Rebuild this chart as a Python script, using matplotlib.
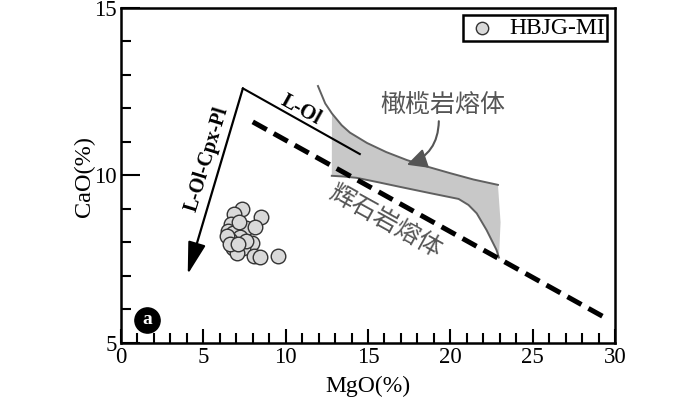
import numpy as np
import matplotlib
matplotlib.use('Agg')
import matplotlib.pyplot as plt
from matplotlib.ticker import MultipleLocator

plt.rcParams['font.family'] = ['Liberation Serif', 'DejaVu Serif']

# HBJG-MI melt inclusions
mgo = [7.33, 6.88, 8.52, 6.70, 7.57, 8.11, 6.51, 6.82, 7.23, 6.62, 7.94,
       6.82, 7.43, 7.03, 8.07, 8.47, 9.56, 6.45, 7.15, 7.60, 6.60, 7.10]
cao = [9.01, 8.84, 8.75, 8.54, 8.44, 8.46, 8.35, 8.27, 8.17, 8.07, 7.99,
       7.85, 7.83, 7.68, 7.60, 7.57, 7.61, 8.20, 8.60, 8.05, 7.95, 7.95]

# pyroxenite melt trend (dashed)
px_x = [8.0, 29.6]
px_y = [11.6, 5.7]

# L-Ol trend and L-Ol-Cpx-Pl arrow
lol_x = [7.4, 14.5]
lol_y = [12.6, 10.64]
cpx_from = (7.4, 12.6)
cpx_to = (4.05, 7.05)

# peridotite melt field
upper_x = [11.96, 12.4, 12.81, 13.4, 13.9, 14.94, 16.1, 17.36, 18.7, 19.98, 21.4, 22.89]
upper_y = [12.67, 12.15, 11.85, 11.5, 11.28, 10.97, 10.70, 10.46, 10.25, 10.07, 9.88, 9.72]
lower_x = [12.8, 13.5, 14.3, 15.6, 16.94, 18.8, 20.5, 21.1, 21.6, 22.2, 22.8, 22.95]
lower_y = [9.99, 9.97, 9.93, 9.80, 9.66, 9.47, 9.30, 9.12, 8.87, 8.37, 7.78, 7.55]
edge_x = [23.05]
edge_y = [8.6]

fig = plt.figure(figsize=(7, 3.99), dpi=100)
ax = fig.add_axes([0.1729, 0.1404, 0.7057, 0.8396])

poly_x = upper_x[2:] + edge_x + lower_x[::-1]
poly_y = upper_y[2:] + edge_y + lower_y[::-1]
ax.fill(poly_x, poly_y, color='#c8c8c8', lw=0, zorder=1)
ax.plot(upper_x, upper_y, color='#606060', lw=1.4, zorder=2)
ax.plot(lower_x, lower_y, color='#606060', lw=1.4, zorder=2)

ax.plot(px_x, px_y, color='black', lw=3.6, dashes=(3.2, 1.6), zorder=3)
ax.plot(lol_x, lol_y, color='black', lw=1.5, zorder=3)
ax.annotate('', xy=cpx_to, xytext=cpx_from,
            arrowprops=dict(arrowstyle='-|>,head_length=0.9,head_width=0.25',
                            mutation_scale=22, color='black', lw=1.6,
                            shrinkA=0, shrinkB=0), zorder=3)

ax.scatter(mgo, cao, s=110, facecolor='#d9d9d9', edgecolor='#333333',
           linewidths=1.0, zorder=4, label='HBJG-MI')

# labels
ax.text(10.9, 11.95, 'L-Ol', fontsize=15, fontweight='bold', rotation=-29,
        ha='center', va='center')
ax.text(5.25, 10.5, 'L-Ol-Cpx-Pl', fontsize=14.5, fontweight='bold', rotation=73,
        ha='center', va='center')
cjk = ['Noto Sans CJK SC', 'DejaVu Sans']
ax.text(19.55, 12.1, '橄榄岩熔体', fontsize=18, color='#555555', family=cjk,
        ha='center', va='center')
ax.text(16.05, 8.62, '辉石岩熔体', fontsize=18, color='#555555', family=cjk,
        rotation=-29, ha='center', va='center')
ax.annotate('', xy=(17.36, 10.32), xytext=(19.3, 11.62),
            arrowprops=dict(arrowstyle='-|>,head_length=0.6,head_width=0.3',
                            mutation_scale=20, color='#555555', lw=1.5,
                            connectionstyle='arc3,rad=-0.35',
                            shrinkA=0, shrinkB=0), zorder=5)

ax.scatter([1.58], [5.69], s=330, color='black', zorder=5, clip_on=False)
ax.text(1.58, 5.69, 'a', color='white', fontsize=14, fontweight='bold',
        ha='center', va='center', zorder=6)

ax.set_xlim(0, 30)
ax.set_ylim(5, 15)
ax.xaxis.set_major_locator(MultipleLocator(5))
ax.xaxis.set_minor_locator(MultipleLocator(1))
ax.yaxis.set_major_locator(MultipleLocator(5))
ax.yaxis.set_minor_locator(MultipleLocator(1))
ax.tick_params(axis='both', which='both', direction='in', top=False, right=False,
               width=1.5, labelsize=16.5, pad=3)
ax.tick_params(axis='x', which='major', length=10)
ax.tick_params(axis='y', which='major', length=14)
ax.tick_params(axis='both', which='minor', length=7.5)
for s in ax.spines.values():
    s.set_linewidth(1.8)

ax.set_xlabel('MgO(%)', fontsize=17)
ax.set_ylabel('CaO(%)', fontsize=17.5)
ax.xaxis.set_label_coords(0.5, -0.131)
ax.xaxis.label.set_va('center')
ax.yaxis.set_label_coords(-0.075, 0.496)
ax.yaxis.label.set_va('center')

leg = ax.legend(loc='upper right', bbox_to_anchor=(0.984, 0.979), borderaxespad=0,
                fancybox=False, edgecolor='black', framealpha=1, fontsize=17,
                handletextpad=0.45, borderpad=0.1, markerscale=0.85,
                handlelength=1.4)
leg.get_frame().set_linewidth(1.8)

fig.savefig('out.png', dpi=100)
